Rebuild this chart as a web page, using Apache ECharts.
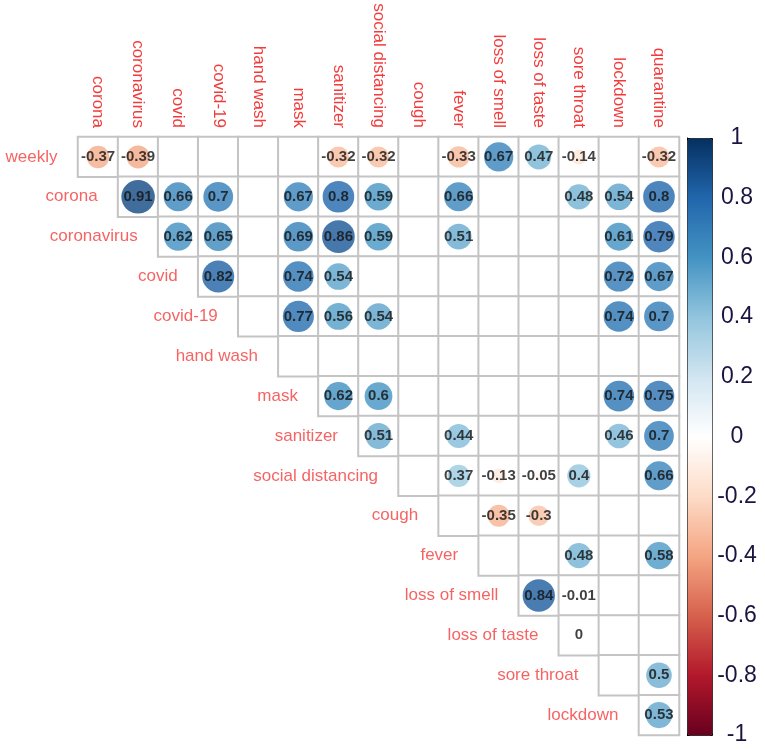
<!DOCTYPE html>
<html>
<head>
<meta charset="utf-8">
<script src="https://cdn.jsdelivr.net/npm/echarts@6/dist/echarts.min.js"></script>
<style>
  html, body { margin: 0; padding: 0; background: #fff; }
  #chart { width: 765px; height: 749px; }
</style>
</head>
<body>
<div id="chart"></div>
<script>
// column labels (top) and row labels (left, staggered)
var columns = ['corona', 'coronavirus', 'covid', 'covid-19', 'hand wash', 'mask', 'sanitizer',
    'social distancing', 'cough', 'fever', 'loss of smell', 'loss of taste', 'sore throat',
    'lockdown', 'quarantine'];
var rows = ['weekly', 'corona', 'coronavirus', 'covid', 'covid-19', 'hand wash', 'mask',
    'sanitizer', 'social distancing', 'cough', 'fever', 'loss of smell', 'loss of taste',
    'sore throat', 'lockdown'];

// correlations, each row starts at its own column (row i -> column i); null = not significant
var weekly = [-0.37, -0.39, null, null, null, null, -0.32, -0.32, null, -0.33, 0.67, 0.47, -0.14, null, -0.32];
var corona = [0.91, 0.66, 0.7, null, 0.67, 0.8, 0.59, null, 0.66, null, null, 0.48, 0.54, 0.8];
var coronavirus = [0.62, 0.65, null, 0.69, 0.86, 0.59, null, 0.51, null, null, null, 0.61, 0.79];
var covid = [0.82, null, 0.74, 0.54, null, null, null, null, null, null, 0.72, 0.67];
var covid19 = [null, 0.77, 0.56, 0.54, null, null, null, null, null, 0.74, 0.7];
var handWash = [null, null, null, null, null, null, null, null, null, null];
var mask = [0.62, 0.6, null, null, null, null, null, 0.74, 0.75];
var sanitizer = [0.51, null, 0.44, null, null, null, 0.46, 0.7];
var socialDistancing = [null, 0.37, -0.13, -0.05, 0.4, null, 0.66];
var cough = [null, -0.35, -0.3, null, null, null];
var fever = [null, null, 0.48, null, 0.58];
var lossOfSmell = [0.84, -0.01, null, null];
var lossOfTaste = [0, null, null];
var soreThroat = [null, 0.5];
var lockdown = [0.53];

var rdbu = ['#67001F', '#B2182B', '#D6604D', '#F4A582', '#FDDBC7', '#FFFFFF',
    '#D1E5F0', '#92C5DE', '#4393C3', '#2166AC', '#053061'];

var rowValues = [weekly, corona, coronavirus, covid, covid19, handWash, mask, sanitizer,
    socialDistancing, cough, fever, lossOfSmell, lossOfTaste, soreThroat, lockdown];

var cellData = [];
var circleData = [];
var labelData = [];
for (var r = 0; r < rowValues.length; r++) {
    labelData.push([r, r, rows[r]]);
    for (var k = 0; k < rowValues[r].length; k++) {
        var c = r + k;
        cellData.push([c, r, 0]);
        if (rowValues[r][k] !== null) {
            circleData.push([c, r, rowValues[r][k]]);
        }
    }
}

var font = 'Liberation Sans, Arial, sans-serif';
var labelRed = '#f23c3c';

var myChart = echarts.init(document.getElementById('chart'));
var option = {
    animation: false,
    backgroundColor: '#fff',
    textStyle: { fontFamily: font },
    grid: [
        { left: 78, top: 137, width: 601, height: 598 },
        { left: 687, top: 138, width: 25, height: 597 }
    ],
    xAxis: [
        {
            type: 'category', data: columns, position: 'top', gridIndex: 0,
            axisLine: { show: false }, axisTick: { show: false }, splitLine: { show: false },
            axisLabel: { interval: 0, rotate: 90, margin: 9, color: labelRed, fontSize: 17, fontFamily: font }
        },
        { type: 'value', gridIndex: 1, show: false, min: 0, max: 1 }
    ],
    yAxis: [
        {
            type: 'category', data: rows, inverse: true, gridIndex: 0, show: false
        },
        {
            type: 'value', gridIndex: 1, min: -1, max: 1, interval: 0.2, position: 'right',
            axisLine: { show: true, lineStyle: { color: '#000', width: 1 } },
            axisTick: { show: true, length: 4, lineStyle: { color: '#000' } },
            splitLine: { show: false },
            axisLabel: {
                align: 'center', margin: 25, fontSize: 23, color: '#1c1440', fontFamily: font,
                formatter: function (v) { return String(Math.round(v * 10) / 10); }
            }
        }
    ],
    visualMap: {
        type: 'continuous',
        seriesIndex: 1,
        dimension: 2,
        min: -1,
        max: 1,
        calculable: false,
        left: 687,
        top: 138,
        itemWidth: 25,
        itemHeight: 597,
        padding: 0,
        borderColor: '#000',
        borderWidth: 1,
        inRange: { color: rdbu }
    },
    series: [
        {   // cell frames
            type: 'heatmap',
            xAxisIndex: 0, yAxisIndex: 0,
            data: cellData,
            itemStyle: { color: '#fff', borderColor: '#c4c4c4', borderWidth: 2 },
            label: { show: false },
            emphasis: { disabled: true }
        },
        {   // correlation circles, area follows |r|
            type: 'scatter',
            xAxisIndex: 0, yAxisIndex: 0,
            data: circleData,
            symbol: 'circle',
            symbolSize: function (val) { return 3 + 32 * Math.sqrt(Math.abs(val[2])); },
            label: {
                show: true, position: 'inside', color: '#111', fontSize: 15, fontWeight: 'bold',
                fontFamily: font,
                formatter: function (p) { return String(p.value[2]); }
            },
            emphasis: { disabled: true },
            z: 3
        },
        {   // row names next to the first cell of each row
            type: 'scatter',
            xAxisIndex: 0, yAxisIndex: 0,
            data: labelData,
            symbolSize: 1,
            itemStyle: { color: 'transparent' },
            label: {
                show: true, position: 'left', distance: 40, color: labelRed, fontSize: 17, fontFamily: font,
                formatter: function (p) { return p.value[2]; }
            },
            emphasis: { disabled: true },
            z: 4
        }
    ]
};
myChart.setOption(option);
</script>
</body>
</html>
